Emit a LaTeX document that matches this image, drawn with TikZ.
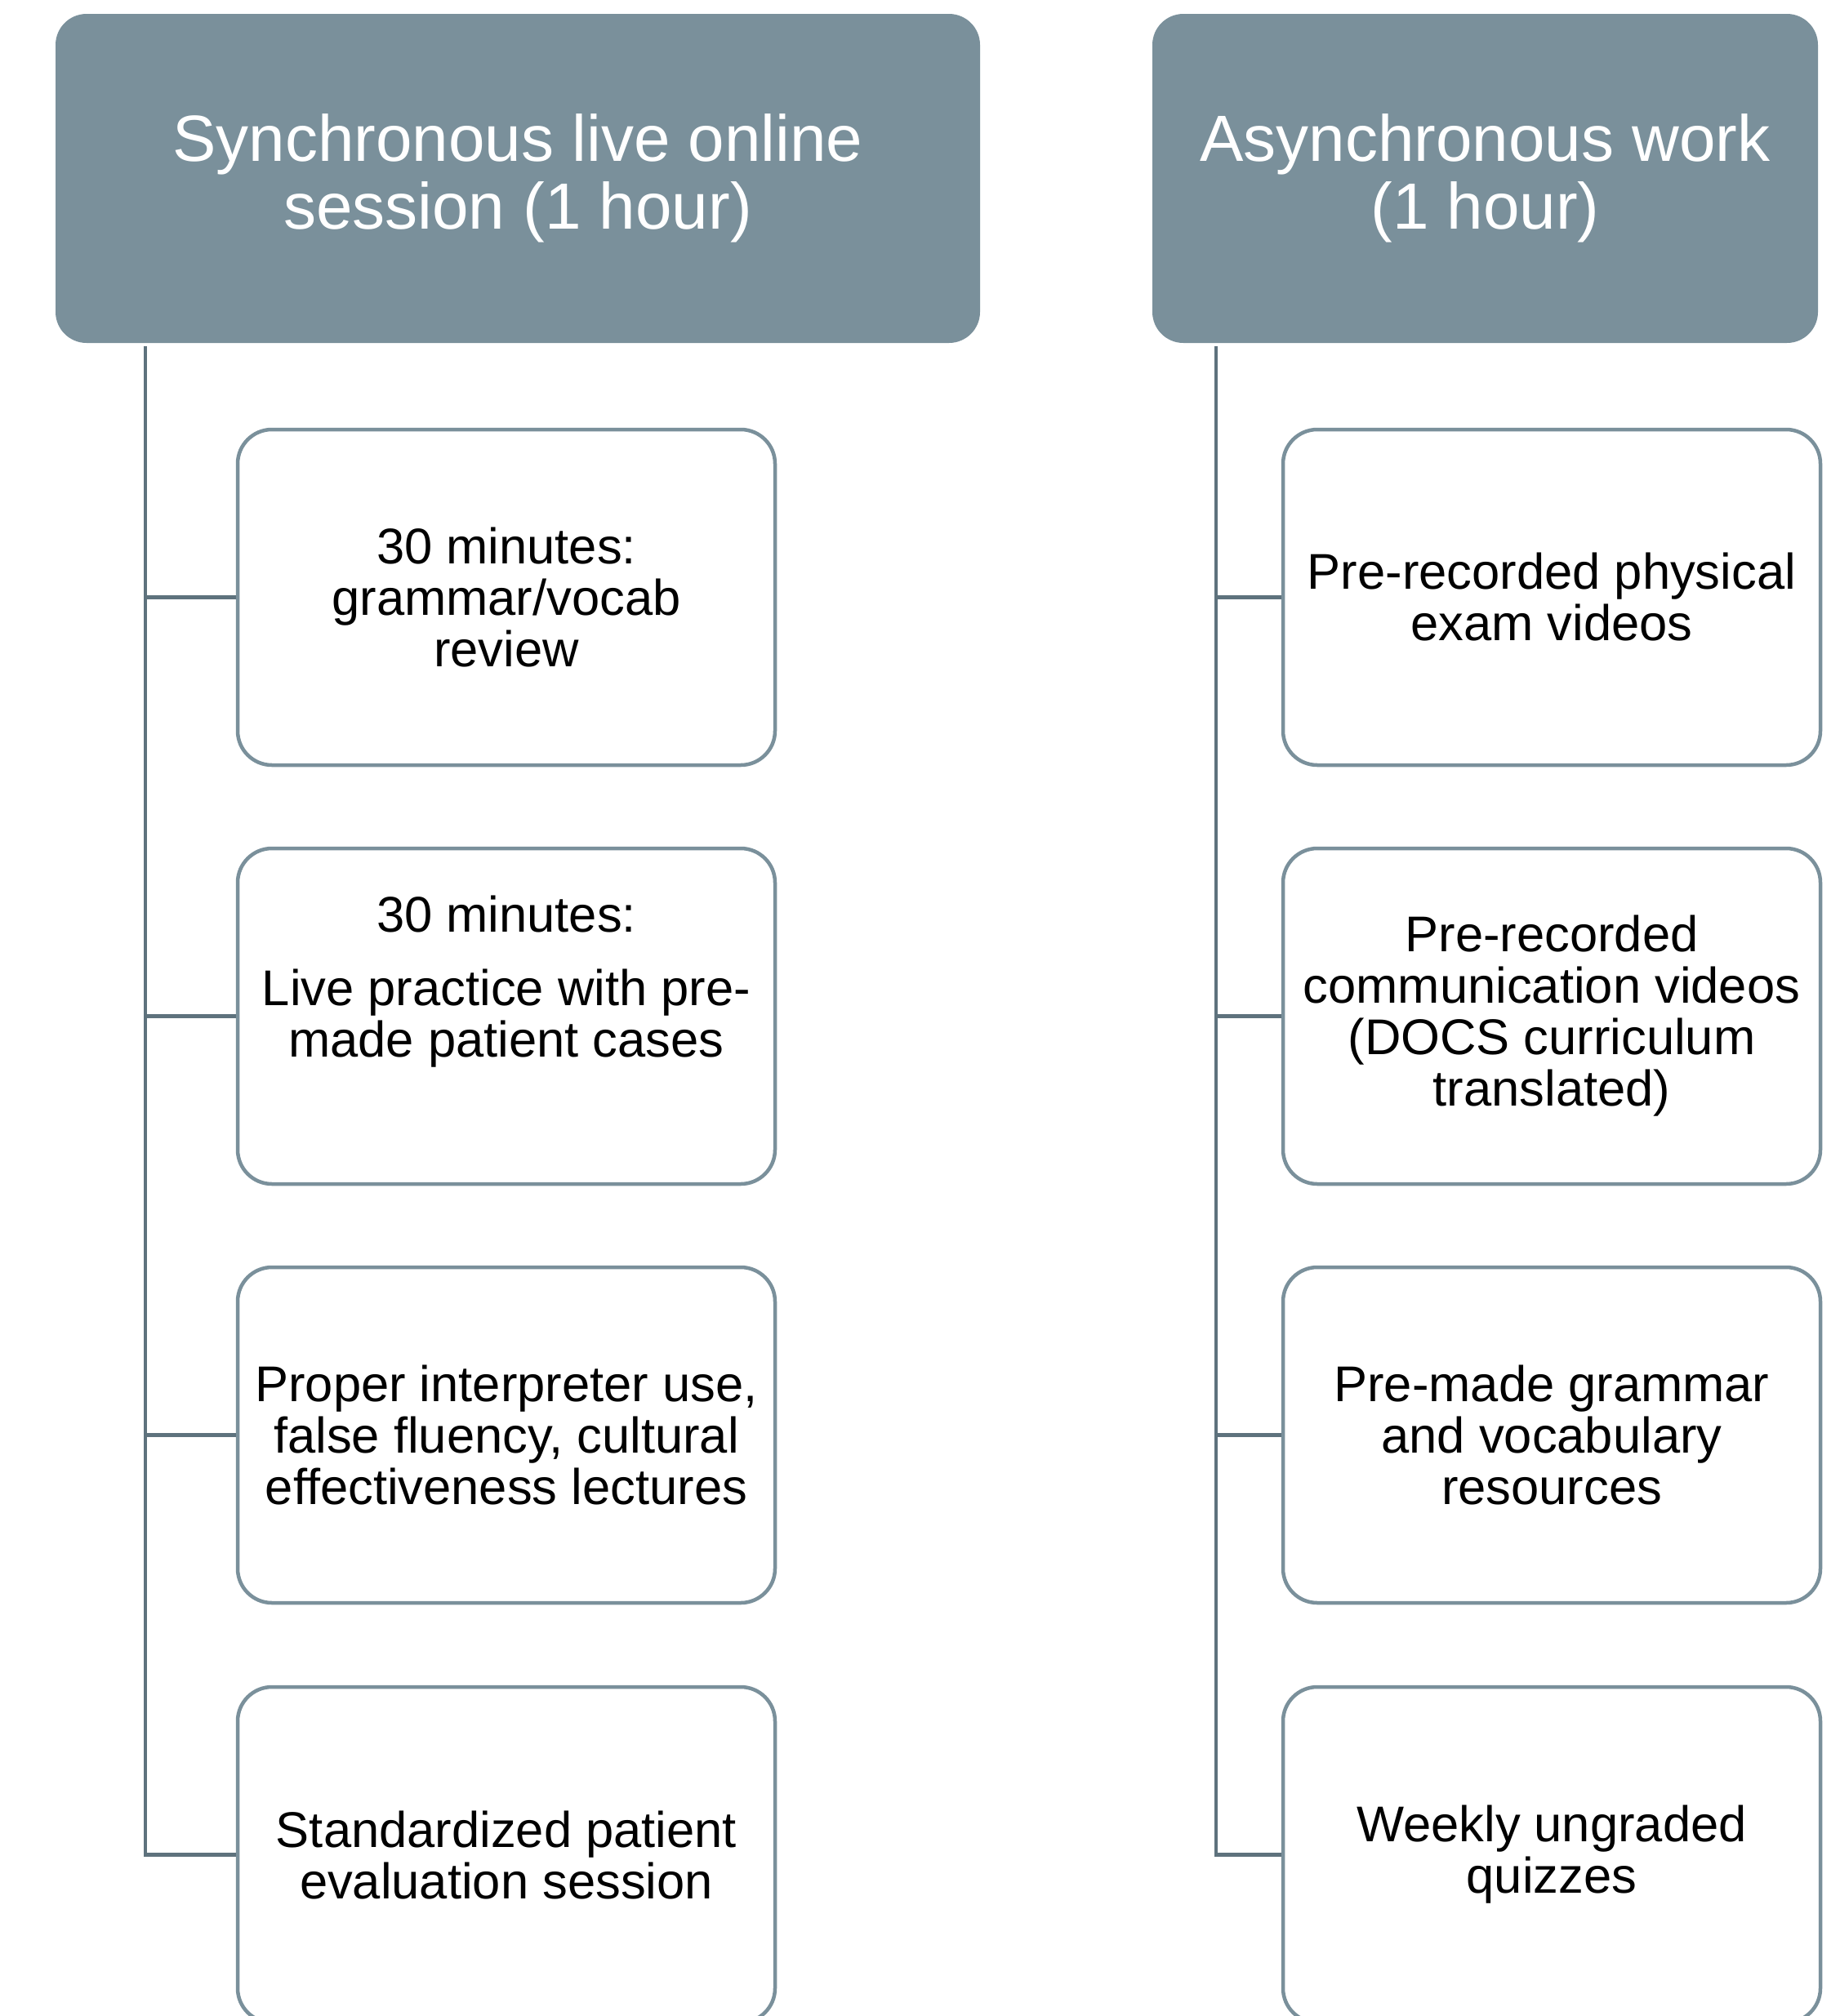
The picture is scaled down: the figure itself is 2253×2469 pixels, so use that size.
\documentclass[tikz,border=0pt]{standalone}
\usepackage{fontspec}
\setmainfont{Liberation Sans}
\definecolor{hdr}{HTML}{7A909B}
\definecolor{lnk}{HTML}{5E727D}
\begin{document}
\begin{tikzpicture}[x=1pt,y=-1pt,
  header/.style={fill=hdr, rounded corners=38pt, minimum width=#1, minimum height=403pt,
    text=white, align=center, font=\fontsize{80}{83}\selectfont, inner sep=0pt},
  item/.style={draw=hdr, line width=4.5pt, fill=white, rounded corners=42pt,
    minimum width=658pt, minimum height=411pt, align=center,
    font=\fontsize{61.5}{63}\selectfont, inner sep=0pt},
  itemtxt/.style={align=center, font=\fontsize{61.5}{63}\selectfont, inner sep=0pt},
  conn/.style={draw=lnk, line width=4.5pt}]
\useasboundingbox[fill=white] (0,0) rectangle (2253,2469);

% headers
\node[header=1132pt] (hl) at (634,218.5) {Synchronous live online\\session (1 hour)};
\node[header=815pt] (hr) at (1818.5,218.5) {Asynchronous work\\(1 hour)};

% left items
\node[item] (l1) at (620,731.5) {30 minutes:\\grammar/vocab\\review};
\node[item] (l2) at (620,1244.5) {};
\node[itemtxt] (l2t) at ([yshift=42pt]l2.center) {30 minutes:\\[27pt]Live practice with pre-\\made patient cases};
\node[item] (l3) at (620,1757.5) {Proper interpreter use,\\false fluency, cultural\\effectiveness lectures};
\node[item] (l4) at (620,2271.5) {Standardized patient\\evaluation session};

% right items
\node[item] (r1) at (1900,731.5) {Pre-recorded physical\\exam videos};
\node[item] (r2) at (1900,1244.5) {Pre-recorded\\communication videos\\(DOCS curriculum\\translated)};
\node[item] (r3) at (1900,1757.5) {Pre-made grammar\\and vocabulary\\resources};
\node[item] (r4) at (1900,2271.5) {Weekly ungraded\\quizzes};

% connectors
\coordinate (lv) at (178,424);
\coordinate (rv) at (1489,424);
\draw[conn] (lv) |- (l4.west);
\draw[conn] (l1.west -| lv) -- (l1.west);
\draw[conn] (l2.west -| lv) -- (l2.west);
\draw[conn] (l3.west -| lv) -- (l3.west);
\draw[conn] (rv) |- (r4.west);
\draw[conn] (r1.west -| rv) -- (r1.west);
\draw[conn] (r2.west -| rv) -- (r2.west);
\draw[conn] (r3.west -| rv) -- (r3.west);
\end{tikzpicture}
\end{document}
